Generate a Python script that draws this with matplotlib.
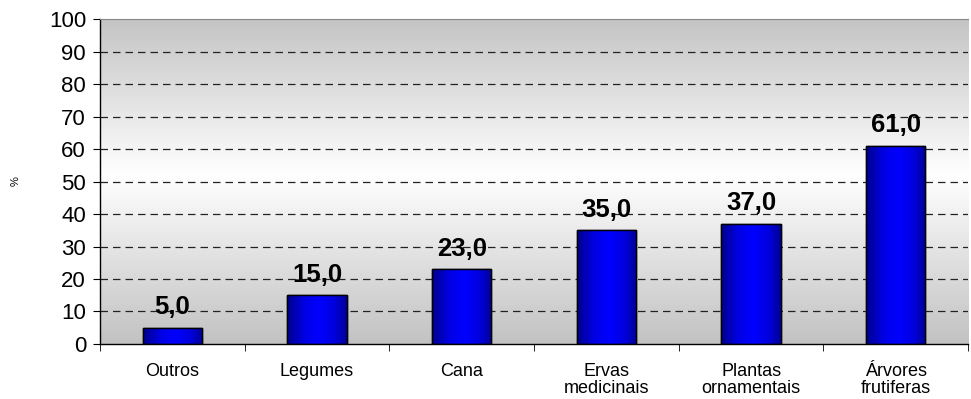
import matplotlib.pyplot as plt
import numpy as np
from matplotlib.colors import LinearSegmentedColormap

plt.rcParams['font.family'] = ['Liberation Sans', 'DejaVu Sans']

categorias = ['Outros', 'Legumes', 'Cana', 'Ervas\nmedicinais',
              'Plantas\nornamentais', 'Árvores\nfrutiferas']
valores = [5.0, 15.0, 23.0, 35.0, 37.0, 61.0]

fig = plt.figure(figsize=(9.71, 3.99), dpi=100)
ax = fig.add_axes([0.103, 0.138, 0.894, 0.814])

x = np.arange(len(categorias))
ax.set_xlim(-0.5, len(categorias) - 0.5)
ax.set_ylim(0, 100)

# fundo em degradê: cinza em cima e embaixo, branco no meio
fundo = LinearSegmentedColormap.from_list(
    'fundo', [(0, '#c2c2c2'), (0.52, '#ffffff'), (1, '#c4c4c4')])
grad = np.linspace(0, 1, 256).reshape(-1, 1)
ax.imshow(grad, cmap=fundo, aspect='auto', extent=[-0.5, len(categorias) - 0.5, 0, 100],
          origin='lower', zorder=0)

# linhas de grade tracejadas
for y in range(10, 100, 10):
    ax.axhline(y, color='#222222', lw=0.9, ls=(0, (6, 4)), zorder=1)

# barras com degradê horizontal
barras = ax.bar(x, valores, width=0.41, color='#0000ff', edgecolor='black',
                linewidth=1.0, zorder=2)
azul = LinearSegmentedColormap.from_list(
    'azul', [(0, '#00008c'), (0.3, '#0000e6'), (0.55, '#0000ff'),
             (0.8, '#0000dd'), (1, '#000096')])
hgrad = np.linspace(0, 1, 256).reshape(1, -1)
for b in barras:
    x0, w, h = b.get_x(), b.get_width(), b.get_height()
    im = ax.imshow(hgrad, cmap=azul, aspect='auto', extent=[x0, x0 + w, 0, h], zorder=2.5)
    im.set_clip_path(b)
    ax.bar(x0 + w / 2, h, width=w, fill=False, edgecolor='black', linewidth=1.0, zorder=3)

# rótulos de valor
for xi, v in zip(x, valores):
    ax.text(xi, v + 4.2, f'{v:.1f}'.replace('.', ','), ha='center', va='baseline',
            fontsize=18.5, fontweight='bold', zorder=4)

ax.set_xticks(x)
ax.set_xticklabels(categorias, fontsize=13, linespacing=0.95)
ax.set_xticks(np.arange(-0.5, len(categorias), 1), minor=True)
ax.tick_params(axis='x', which='major', length=0, pad=14)
ax.tick_params(axis='x', which='minor', length=5, direction='out')
ax.set_yticks(range(0, 101, 10))
ax.tick_params(axis='y', labelsize=16, length=5, direction='out', pad=5)

ax.set_ylabel('%', fontsize=8)
ax.yaxis.set_label_coords(-0.092, 0.5)

ax.spines['right'].set_visible(False)
ax.spines['top'].set_color('#888888')
ax.spines['top'].set_linewidth(0.8)
ax.spines['left'].set_linewidth(1.0)
ax.spines['bottom'].set_linewidth(1.0)

fig.savefig('out.png', dpi=100)
